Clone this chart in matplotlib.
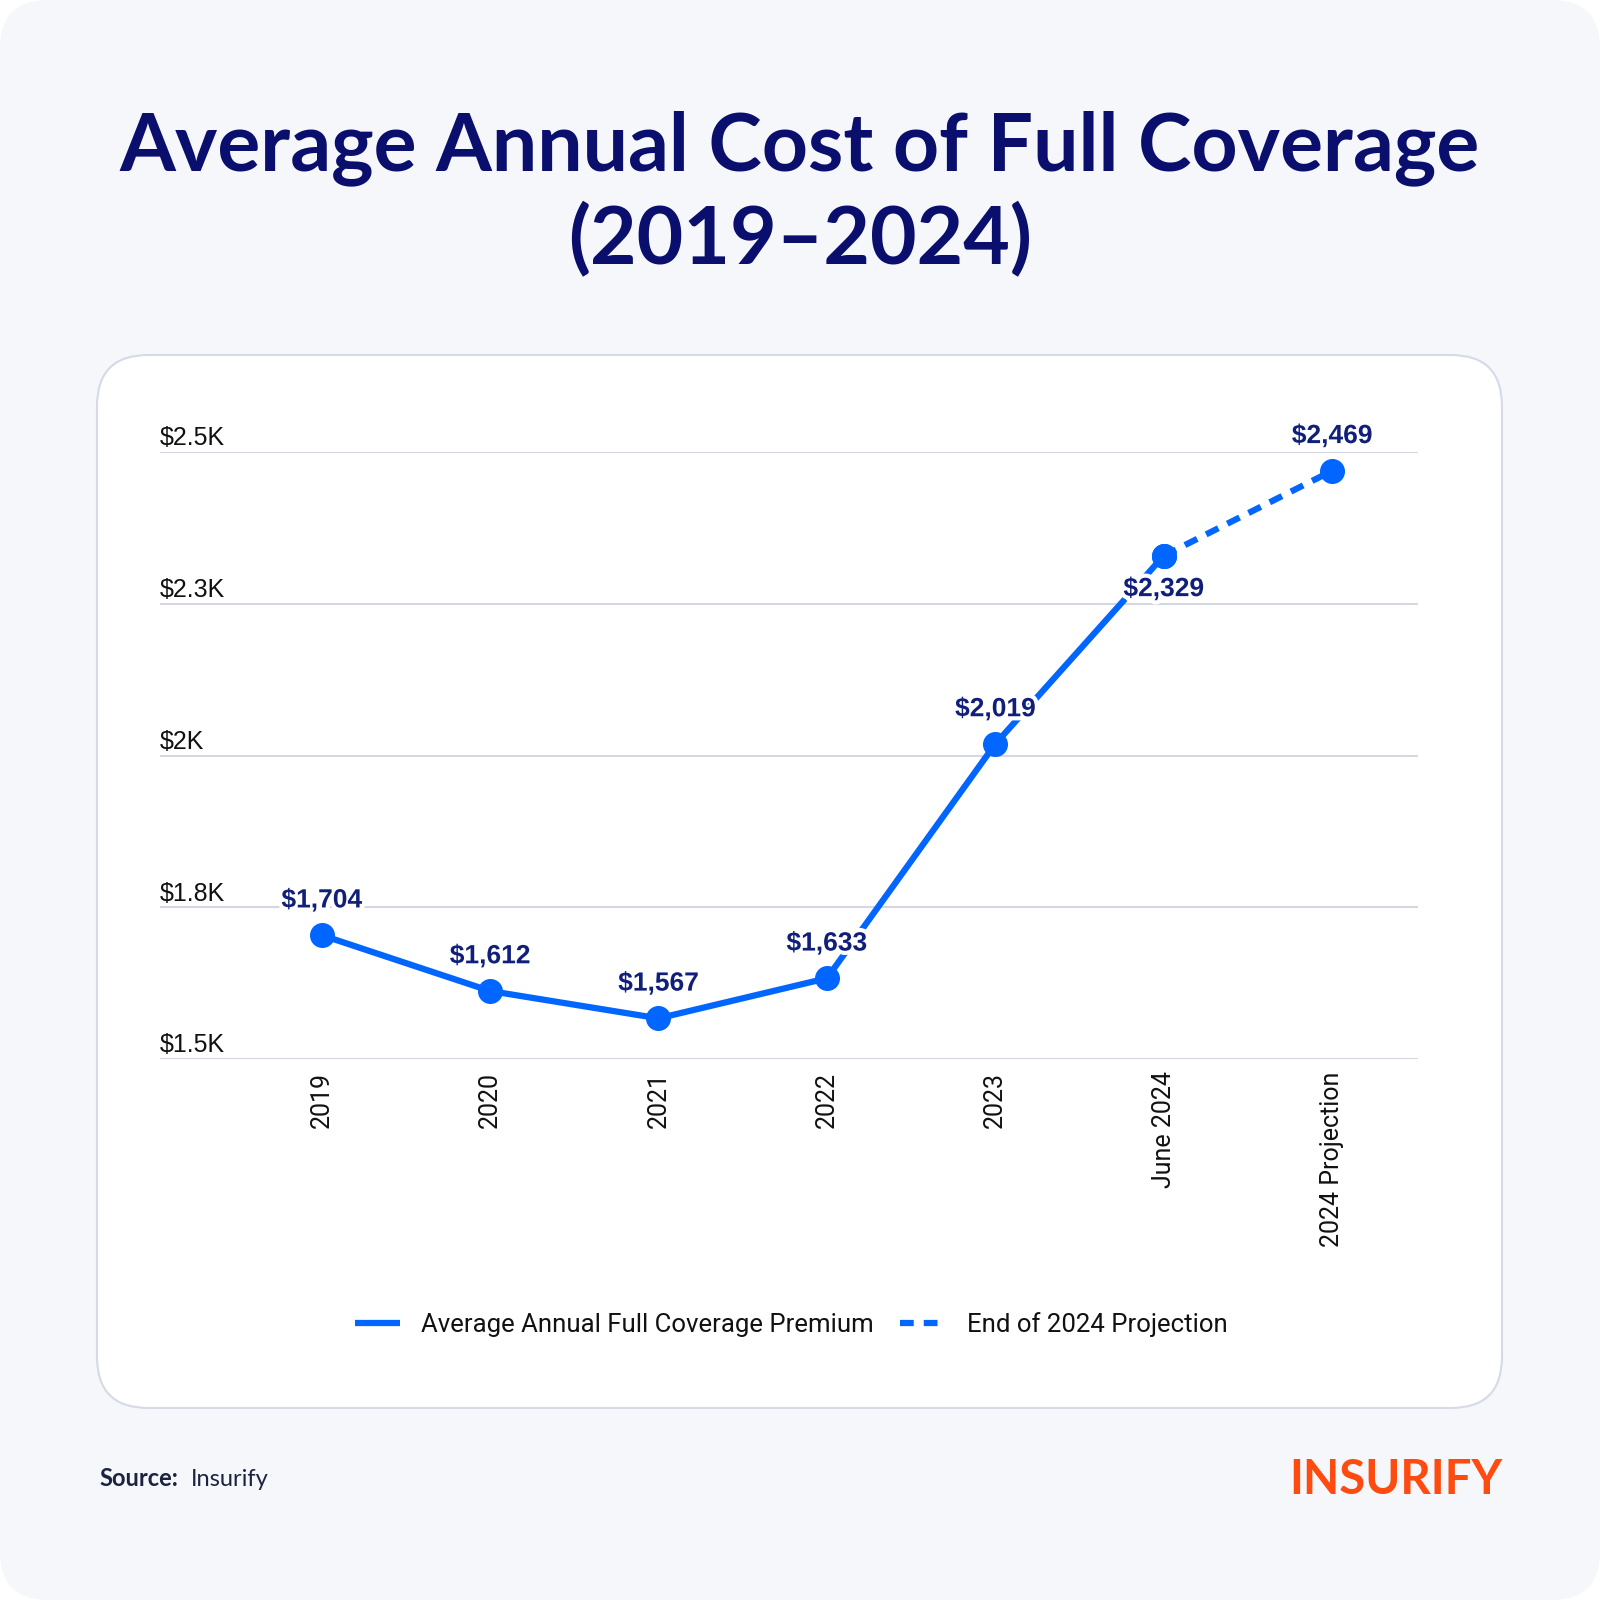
import matplotlib
matplotlib.use("Agg")
import matplotlib.pyplot as plt
from matplotlib.patches import FancyBboxPatch
import matplotlib.patheffects as pe

categories = ["2019", "2020", "2021", "2022", "2023", "June 2024", "2024 Projection"]
premium = [1704, 1612, 1567, 1633, 2019, 2329]
projection = [2329, 2469]
label_values = [1704, 1612, 1567, 1633, 2019, 2329, 2469]
label_pos = ["above", "above", "above", "above", "above", "below", "above"]
yticks = [1500, 1750, 2000, 2250, 2500]
ytick_labels = ["$1.5K", "$1.8K", "$2K", "$2.3K", "$2.5K"]

BLUE = "#0066FF"
NAVY = "#0A0F6E"
LABEL_NAVY = "#0F1F7A"
BG = "#F5F7FB"
W, H = 1600, 1600

fig = plt.figure(figsize=(16, 16), dpi=100)
fig.patch.set_facecolor("white")

# outer background with rounded corners
bg = FancyBboxPatch((0, 0), 1, 1, boxstyle="round,pad=0,rounding_size=0.03",
                    transform=fig.transFigure, facecolor=BG, edgecolor="none",
                    zorder=-3)
fig.patches.append(bg)

# card
cx0, cy0, cx1, cy1 = 97 / W, 1 - 1408 / H, 1502 / W, 1 - 355 / H
card = FancyBboxPatch((cx0, cy0), cx1 - cx0, cy1 - cy0,
                      boxstyle="round,pad=0,rounding_size=0.032",
                      transform=fig.transFigure, facecolor="white",
                      edgecolor="#D5DAE6", linewidth=1.5, zorder=-2)
fig.patches.append(card)

# title
fig.text(0.5, 1 - 148 / H, "Average Annual Cost of Full Coverage", ha="center", va="center",
         fontsize=58, fontweight="bold", color=NAVY, family=["Lato", "DejaVu Sans"])
fig.text(0.5, 1 - 240 / H, "(2019–2024)", ha="center", va="center",
         fontsize=58, fontweight="bold", color=NAVY, family=["Lato", "DejaVu Sans"])

ax = fig.add_axes([160 / W, 1 - 1059 / H, (1418 - 160) / W, (1059 - 452) / H])
ax.set_zorder(5)
ax.set_facecolor("none")
x = list(range(len(categories)))
ax.set_xlim(-0.96, 6.51)
ax.set_ylim(1500, 2500)

for yt, lab in zip(yticks, ytick_labels):
    ax.axhline(yt, color="#D3D7E2", linewidth=1.5, zorder=0)
    ax.text(-0.96, yt + 11, lab, ha="left", va="baseline",
            fontsize=18, color="#111111", family=["Liberation Sans", "DejaVu Sans"])

ax.plot(x[:len(premium)], premium, color=BLUE, linewidth=4.5, marker="o", markersize=17,
        solid_capstyle="butt", zorder=3, label="Average Annual Full Coverage Premium")
ax.plot(x[len(premium) - 1:], projection, color=BLUE, linewidth=4.5, linestyle=(0, (2.2, 1.6)),
        marker="o", markersize=17, zorder=3, label="End of 2024 Projection")

for xi, v, pos in zip(x, label_values, label_pos):
    off = 25 if pos == "above" else -24
    ax.annotate(f"${v:,}", (xi, v), xytext=(0, off), textcoords="offset points",
                ha="center", va="center", fontsize=19, fontweight="bold", color=LABEL_NAVY,
                family=["Liberation Sans", "DejaVu Sans"], zorder=5,
                path_effects=[pe.withStroke(linewidth=6, foreground="white")])

ax.set_yticks([])
ax.set_xticks(x)
ax.set_xticklabels(categories, rotation=90, fontsize=18, color="#111111",
                   family=["Roboto", "DejaVu Sans"], va="top")
ax.tick_params(axis="x", length=0, pad=9)
for s in ax.spines.values():
    s.set_visible(False)

leg = ax.legend(loc="center", bbox_to_anchor=(791 / W, 1 - 1325 / H), bbox_transform=fig.transFigure,
                ncol=2, frameon=False, handlelength=1.75, columnspacing=1.0,
                handletextpad=0.85, prop={"family": ["Roboto", "DejaVu Sans"], "size": 18.5})
for h in leg.get_lines():
    h.set_marker("")
for t in leg.get_texts():
    t.set_color("#111111")

fig.text(99 / W, 1 - 1479 / H, "Source:", ha="left", va="center", fontsize=17, fontweight="bold",
         color="#1A2340", family=["Lato", "DejaVu Sans"])
fig.text(191 / W, 1 - 1479 / H, "Insurify", ha="left", va="center", fontsize=17,
         color="#1A2340", family=["Lato", "DejaVu Sans"])
fig.text(1502 / W, 1 - 1480 / H, "INSURIFY", ha="right", va="center", fontsize=34, fontweight="bold",
         color="#FF4A10", family=["Lato", "DejaVu Sans"])

fig.savefig("out.png", dpi=100, facecolor=fig.get_facecolor())
